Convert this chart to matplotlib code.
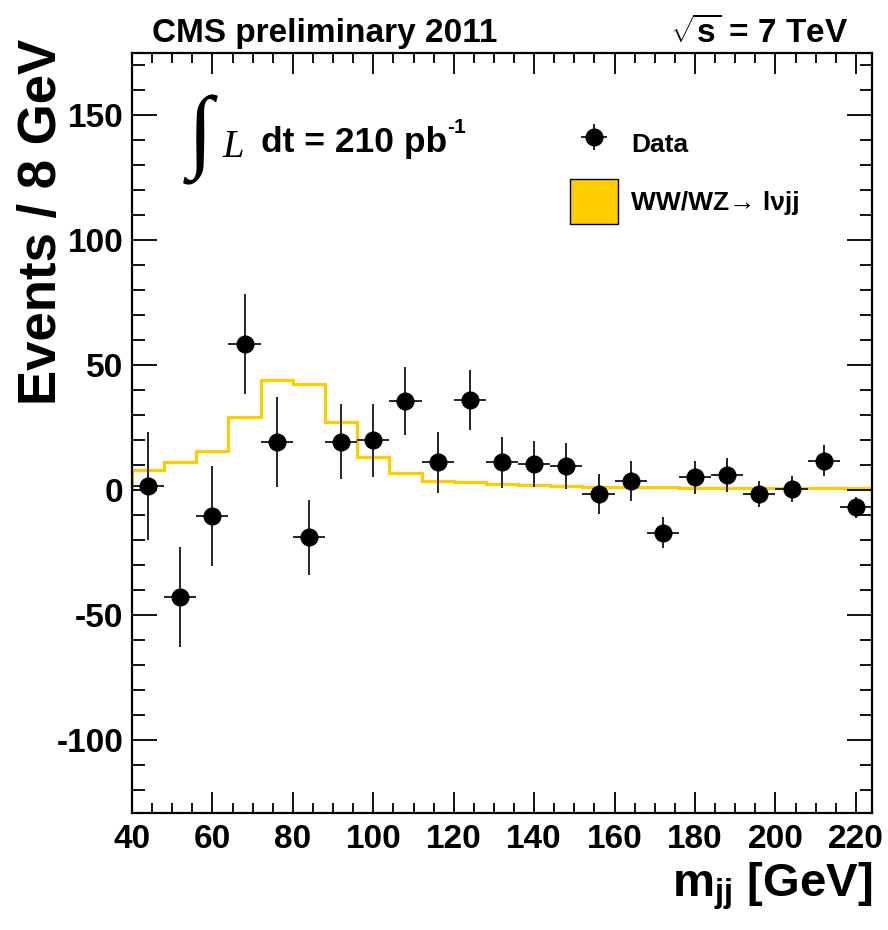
import numpy as np
import matplotlib
matplotlib.use('Agg')
import matplotlib.pyplot as plt
from matplotlib.patches import Patch

plt.rcParams['font.family'] = ['Liberation Sans', 'DejaVu Sans']
plt.rcParams['font.weight'] = 'bold'
plt.rcParams['axes.unicode_minus'] = False
plt.rcParams['mathtext.fontset'] = 'custom'
plt.rcParams['mathtext.rm'] = 'Liberation Sans:bold'
plt.rcParams['mathtext.bf'] = 'Liberation Sans:bold'
plt.rcParams['mathtext.it'] = 'Liberation Serif:italic'

# binning: 8 GeV bins from 40 to 224
bin_edges = np.arange(40, 225, 8)
bin_centers = bin_edges[:-1] + 4

# data (background subtracted)
data_y = [1.6, -42.9, -10.5, 58.4, 19.1, -18.9, 19.3, 19.9, 35.7, 11.1, 36.0, 11.1,
          10.4, 9.6, -1.5, 3.7, -17.1, 5.1, 6.0, -1.6, 0.3, 11.7, -6.9]
data_err = [21.5, 20.0, 20.0, 20.0, 18.0, 15.0, 15.0, 14.5, 13.7, 12.3, 12.0, 10.3,
            9.3, 9.2, 8.0, 8.0, 6.2, 6.7, 6.9, 5.3, 5.2, 6.2, 4.3]

# WW/WZ -> lvjj expectation
mc_y = [7.9, 11.3, 15.7, 29.1, 44.0, 42.3, 27.3, 13.3, 6.7, 3.6, 3.2, 2.4,
        1.9, 1.5, 1.3, 1.2, 1.1, 1.0, 1.0, 0.9, 0.9, 0.8, 0.8]

fig = plt.figure(figsize=(8.88, 9.30), dpi=100)
ax = fig.add_axes([0.1486, 0.1261, 0.8334, 0.8172])

ax.stairs(mc_y, bin_edges, color='#ffcc00', linewidth=2.3)
ax.errorbar(bin_centers, data_y, xerr=4, yerr=data_err, fmt='o', color='black',
            markersize=12, elinewidth=1.2, capsize=0)

ax.set_xlim(40, 224)
ax.set_ylim(-129, 175)
ax.set_xticks(np.arange(40, 221, 20))
ax.set_xticks(np.arange(40, 224, 5), minor=True)
ax.set_yticks(np.arange(-100, 151, 50))
ax.set_yticks(np.arange(-120, 175, 10), minor=True)
ax.tick_params(which='both', direction='in', top=True, right=True, labelsize=24, width=1.3)
ax.tick_params(axis='x', which='major', length=15, pad=8)
ax.tick_params(axis='x', which='minor', length=7.5)
ax.tick_params(axis='y', which='major', length=18, pad=6)
ax.tick_params(axis='y', which='minor', length=9)
for s in ax.spines.values():
    s.set_linewidth(1.6)

ax.set_ylabel('Events / 8 GeV', fontsize=38, fontweight='bold', loc='top')
ax.yaxis.set_label_coords(-0.088, 1.018)
ax.set_xlabel(r'm$_{\mathbf{jj}}$ [GeV]', fontsize=34, fontweight='bold', loc='right', labelpad=4)

fig.text(0.171, 0.9645, 'CMS preliminary 2011', fontsize=24, fontweight='bold', va='center', ha='left')
fig.text(0.955, 0.9645, r'$\sqrt{\mathbf{s}}$ = 7 TeV', fontsize=24, fontweight='bold', va='center', ha='right')

ax.text(0.075, 0.885, '\u222b', fontsize=66, family='Liberation Serif', va='center', ha='left',
        transform=ax.transAxes)
ax.text(0.122, 0.875, 'L', fontsize=28, family='Liberation Serif', style='italic', fontweight='normal',
        va='center', ha='left', transform=ax.transAxes)
ax.text(0.175, 0.882, 'dt = 210 pb', fontsize=25.5, fontweight='bold', va='center',
        ha='left', transform=ax.transAxes)
ax.text(0.426, 0.902, '-1', fontsize=15, fontweight='bold', va='center',
        ha='left', transform=ax.transAxes)

data_handle = ax.errorbar([], [], xerr=1, yerr=1, fmt='o', color='black', markersize=12,
                          elinewidth=1.2, capsize=0)
mc_handle = Patch(facecolor='#ffcc00', edgecolor='black', linewidth=1)
ax.legend([data_handle, mc_handle], ['Data', 'WW/WZ\u2192 l\u03bdjj'], loc='upper left',
          bbox_to_anchor=(0.56, 0.94), frameon=False, fontsize=19, handlelength=1.8,
          handleheight=2.2, handletextpad=0.5, labelspacing=0.5)

fig.savefig('out.png', dpi=100)
